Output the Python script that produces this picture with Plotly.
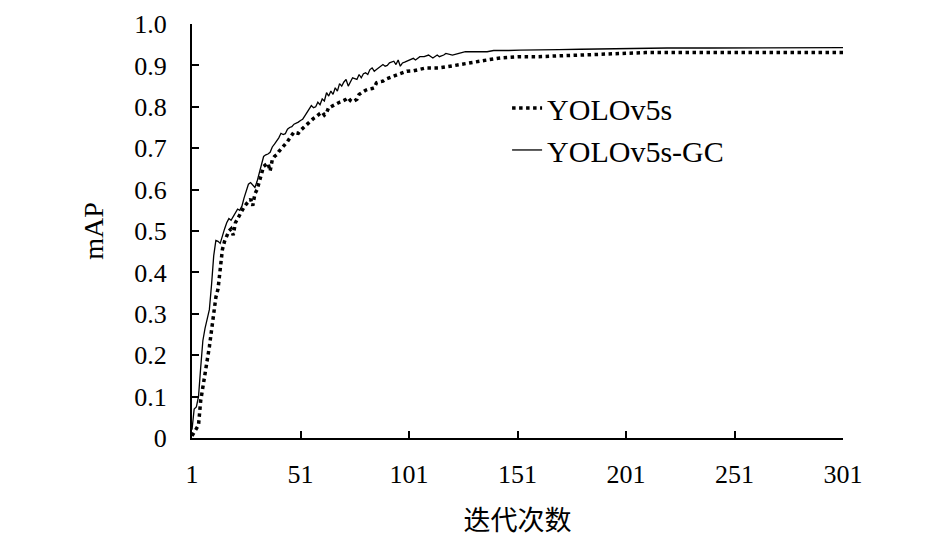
import plotly.graph_objects as go

# YOLOv5s-GC (solid line)
gc_epochs = list(range(1, 107)) + [108, 110, 112, 114, 115, 117, 118, 121, 124, 127, 130, 134, 137, 140,
                                   144, 147, 152, 158, 164, 170, 180, 190, 200, 210, 220, 240, 260, 280, 301]
gc_map = [0.02, 0.07, 0.075, 0.10, 0.17, 0.235, 0.265, 0.29, 0.31, 0.37,
          0.44, 0.477, 0.475, 0.47, 0.49, 0.505, 0.52, 0.53, 0.526, 0.535,
          0.545, 0.553, 0.55, 0.56, 0.58, 0.60, 0.613, 0.617, 0.61, 0.605,
          0.62, 0.64, 0.655, 0.68, 0.684, 0.686, 0.69, 0.703, 0.71, 0.717,
          0.725, 0.736, 0.733, 0.735, 0.746, 0.75, 0.752, 0.758, 0.76, 0.763,
          0.767, 0.77, 0.778, 0.787, 0.795, 0.803, 0.798, 0.80, 0.811, 0.805,
          0.819, 0.814, 0.834, 0.826, 0.838, 0.830, 0.846, 0.838, 0.856, 0.85,
          0.86, 0.866, 0.85, 0.862, 0.870, 0.868, 0.866, 0.878, 0.870, 0.88,
          0.882, 0.878, 0.89, 0.894, 0.886, 0.89, 0.894, 0.898, 0.902, 0.898,
          0.90, 0.906, 0.908, 0.91, 0.902, 0.913, 0.898, 0.906, 0.908, 0.91,
          0.913, 0.915, 0.917, 0.913, 0.918, 0.921,
          0.921, 0.925, 0.918, 0.925, 0.921, 0.925, 0.929, 0.925, 0.929, 0.933,
          0.933, 0.933, 0.933, 0.936, 0.937, 0.936, 0.937, 0.937, 0.937, 0.938,
          0.939, 0.94, 0.941, 0.941, 0.942, 0.942, 0.942, 0.943, 0.943]

# YOLOv5s (dotted line)
v5_epochs = list(range(1, 91)) + [92, 94, 96, 98, 100, 103, 106, 109, 112, 115, 120, 124, 129, 134, 138,
                                  143, 147, 152, 160, 170, 180, 190, 200, 210, 230, 250, 270, 301]
v5_map = [0.005, 0.015, 0.025, 0.031, 0.09, 0.12, 0.15, 0.18, 0.22, 0.26,
          0.305, 0.34, 0.36, 0.41, 0.455, 0.475, 0.49, 0.50, 0.505, 0.49,
          0.52, 0.53, 0.536, 0.55, 0.558, 0.565, 0.572, 0.577, 0.561, 0.59,
          0.60, 0.617, 0.637, 0.656, 0.66, 0.664, 0.645, 0.672, 0.68, 0.684,
          0.692, 0.698, 0.705, 0.708, 0.716, 0.724, 0.733, 0.739, 0.737, 0.736,
          0.743, 0.748, 0.751, 0.757, 0.763, 0.768, 0.772, 0.775, 0.78, 0.784,
          0.787, 0.78, 0.785, 0.799, 0.80, 0.803, 0.807, 0.809, 0.811, 0.813,
          0.815, 0.818, 0.822, 0.815, 0.812, 0.816, 0.818, 0.83, 0.834, 0.838,
          0.84, 0.842, 0.842, 0.844, 0.846, 0.858, 0.86, 0.86, 0.862, 0.866,
          0.87, 0.873, 0.878, 0.882, 0.886, 0.887, 0.891, 0.894, 0.894, 0.894,
          0.898, 0.902, 0.906, 0.91, 0.914, 0.918, 0.92, 0.921, 0.921, 0.923,
          0.925, 0.928, 0.93, 0.931, 0.931, 0.931, 0.931, 0.931]

x_ticks = [1, 51, 101, 151, 201, 251, 301]
y_ticks = [0, 0.1, 0.2, 0.3, 0.4, 0.5, 0.6, 0.7, 0.8, 0.9, 1.0]
y_labels = ['0', '0.1', '0.2', '0.3', '0.4', '0.5', '0.6', '0.7', '0.8', '0.9', '1.0']

serif = 'Liberation Serif, Noto Sans CJK SC'

fig = go.Figure()
fig.add_trace(go.Scatter(x=v5_epochs, y=v5_map, mode='lines', name='YOLOv5s',
                         line=dict(color='black', width=3.5, dash='dot')))
fig.add_trace(go.Scatter(x=gc_epochs, y=gc_map, mode='lines', name='YOLOv5s-GC',
                         line=dict(color='black', width=1.3)))

# the page body has an 8px margin, so the figure is sized to fit inside the window
fig.update_layout(
    width=937, height=533,
    margin=dict(l=184, r=102, t=16, b=103),
    paper_bgcolor='white', plot_bgcolor='white',
    font=dict(family=serif, size=26, color='black'),
    legend=dict(x=0.484, y=0.86, xanchor='left', yanchor='top',
                font=dict(size=30), bgcolor='rgba(0,0,0,0)',
                tracegroupgap=0, itemwidth=30),
)
fig.update_xaxes(range=[1, 301], tickvals=x_ticks, showgrid=False, zeroline=False,
                 showline=True, linecolor='black', linewidth=2, automargin=False,
                 ticks='inside', ticklen=7, tickwidth=2, tickcolor='black',
                 ticklabelstandoff=12, ticklabeloverflow='allow',
                 title=dict(text='迭代次数', font=dict(size=27), standoff=23))
fig.update_yaxes(range=[0, 1.0], tickvals=y_ticks, ticktext=y_labels, showgrid=False,
                 zeroline=False, showline=True, linecolor='black', linewidth=2,
                 automargin=False,
                 ticks='inside', ticklen=7, tickwidth=2, tickcolor='black',
                 ticklabelstandoff=18, ticklabeloverflow='allow',
                 title=dict(text='mAP', font=dict(size=28), standoff=22))

fig.write_html("out.html")
